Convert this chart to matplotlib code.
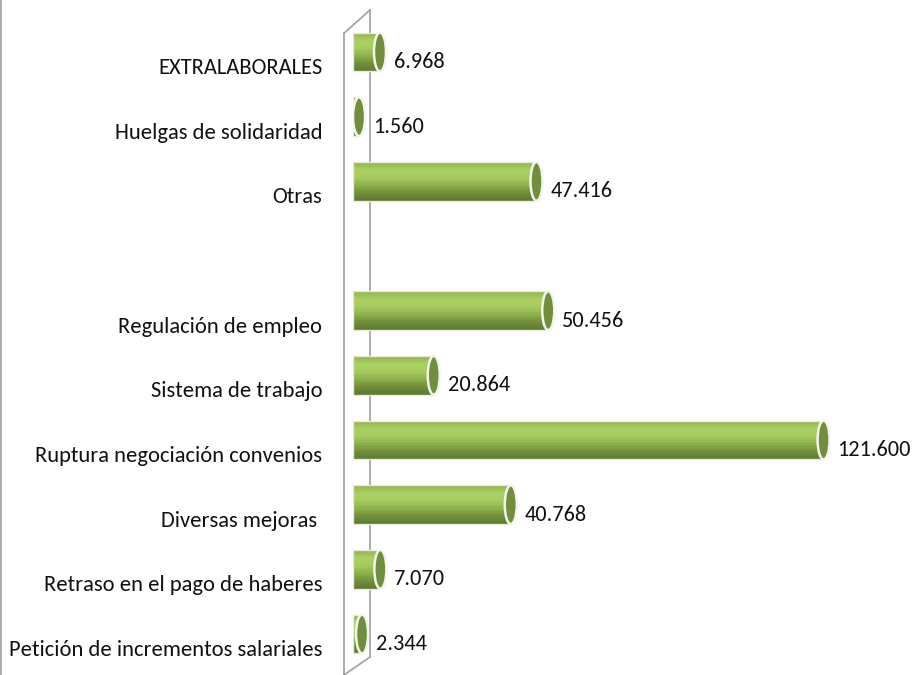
import numpy as np
import matplotlib
matplotlib.use("Agg")
import matplotlib.pyplot as plt
from matplotlib.patches import Ellipse
from matplotlib.colors import LinearSegmentedColormap
from matplotlib.transforms import ScaledTranslation
from matplotlib.lines import Line2D

# categories from bottom to top ('' = empty slot between groups)
categorias = [
    "Petición de incrementos salariales",
    "Retraso en el pago de haberes",
    "Diversas mejoras ",
    "Ruptura negociación convenios",
    "Sistema de trabajo",
    "Regulación de empleo",
    "",
    "Otras",
    "Huelgas de solidaridad",
    "EXTRALABORALES",
]
valores = [2344, 7070, 40768, 121600, 20864, 50456, None, 47416, 1560, 6968]

plt.rcParams["font.family"] = ["Carlito", "DejaVu Sans"]

fig = plt.figure(figsize=(9.16, 6.75), dpi=100)
ax = fig.add_axes([353 / 916, 0, 1 - 353 / 916, 1])

px_x = 3.87 / 1000      # pixels per unit
ax.set_xlim(0, (916 - 353) / px_x)
ax.set_ylim(-0.634, 9.804)

# cylinder shading, top -> bottom
grad = LinearSegmentedColormap.from_list(
    "cyl", ["#93b352", "#aad063", "#a6ca60", "#8fb04d", "#728f3b", "#5f7a32"])

h = 0.6
nstrip = 24
ypos = np.arange(len(categorias))
for y, v in zip(ypos, valores):
    if v is None:
        continue
    # left rounded end
    ax.add_patch(Ellipse((0, y), 1400, h, facecolor="#98bb55",
                         edgecolor="#e6ecd8", lw=1, zorder=2))
    for j in range(nstrip):
        top = y + h / 2 - j * h / nstrip
        ax.barh(top - h / (2 * nstrip), v, height=h / nstrip,
                color=grad(j / (nstrip - 1)), linewidth=0, zorder=3)
    ax.barh(y, v, height=h, fill=False, edgecolor="#e6ecd8", lw=1, zorder=4)
    # end cap
    ax.add_patch(Ellipse((v, y), 3100, h, facecolor="#728d3f",
                         edgecolor="#f2f5ea", lw=1.8, zorder=5))
    ax.annotate(f"{v:,}".replace(",", "."), xy=(v, y), xytext=(14, -10),
                textcoords="offset pixels", ha="left", va="center",
                fontsize=16, color="#111111", zorder=6)

ax.set_yticks(ypos)
ax.set_yticklabels(categorias, fontsize=16.2, color="#111111")
ax.tick_params(axis="y", length=0, pad=22)
for lab in ax.get_yticklabels():
    lab.set_transform(lab.get_transform() +
                      ScaledTranslation(0, -0.14, fig.dpi_scale_trans))
ax.set_xticks([])
for s in ax.spines.values():
    s.set_visible(False)

# 3D wall outline
wall = "#a6a6a6"
xf = -9 / px_x
xb = 17 / px_x
ax.plot([xf, xf], [-0.7, 9.29], color=wall, lw=1.3, clip_on=False, zorder=6)
ax.plot([xb, xb], [-0.356, 9.65], color=wall, lw=1.3, clip_on=False, zorder=1)
ax.plot([xf, xb], [9.29, 9.65], color=wall, lw=1.3, clip_on=False, zorder=1)
ax.plot([xf, xb], [-0.634, -0.356], color=wall, lw=1.3, clip_on=False, zorder=1)

fig.add_artist(Line2D([0.0015, 0.0015], [0, 1], color="#a6a6a6", lw=1.3))

fig.savefig("out.png", dpi=100)
